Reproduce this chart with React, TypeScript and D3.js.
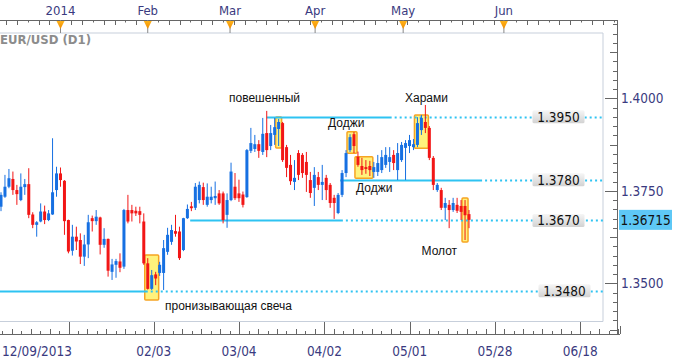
import React, { useEffect } from "react";
import * as d3 from "d3";

// ---- Candle data (EUR/USD daily) ----
const opens = [
  1.3707, 1.3734, 1.3761, 1.3782, 1.3752, 1.3725, 1.376, 1.3768, 1.3686, 1.3658,
  1.3667, 1.3694, 1.3671, 1.3686, 1.3752, 1.3797, 1.3777, 1.3671, 1.3588, 1.3626,
  1.3617, 1.3572, 1.3605, 1.3676, 1.3668, 1.3678, 1.3604, 1.362, 1.3531, 1.355,
  1.3559, 1.3545, 1.3698, 1.3698, 1.3696, 1.3695, 1.3667, 1.3554, 1.3485, 1.3524,
  1.3528, 1.3528, 1.3585, 1.3612, 1.3641, 1.364, 1.359, 1.3676, 1.3708, 1.3704,
  1.3725, 1.376, 1.3712, 1.3725, 1.373, 1.3743, 1.3743, 1.3685, 1.3725, 1.3761,
  1.3743, 1.374, 1.3733, 1.3858, 1.3863, 1.3876, 1.3855, 1.3906, 1.3871, 1.3901,
  1.3917, 1.3933, 1.3868, 1.382, 1.3774, 1.3852, 1.3847, 1.3828, 1.3779, 1.3758,
  1.3787, 1.3766, 1.3785, 1.3766, 1.3731, 1.369, 1.3739, 1.3798, 1.386, 1.3903,
  1.3842, 1.3817, 1.3814, 1.3817, 1.3801, 1.3801, 1.3806, 1.382, 1.3828, 1.3847,
  1.3806, 1.3833, 1.3866, 1.3871, 1.3868, 1.3874, 1.3914, 1.3936, 1.392, 1.3839,
  1.3752, 1.3752, 1.3704, 1.3712, 1.3698, 1.3712, 1.3709, 1.3709, 1.3687,
];
const highs = [
  1.3746, 1.3793, 1.3809, 1.3802, 1.3766, 1.3797, 1.3782, 1.3811, 1.3692, 1.3668,
  1.3716, 1.371, 1.3698, 1.3892, 1.3815, 1.3813, 1.3779, 1.3672, 1.3658, 1.3653,
  1.3635, 1.3631, 1.3685, 1.3683, 1.3698, 1.368, 1.3649, 1.3621, 1.3566, 1.3566,
  1.3581, 1.3701, 1.3739, 1.3712, 1.3707, 1.3707, 1.3689, 1.3568, 1.3536, 1.3531,
  1.3558, 1.3617, 1.365, 1.3658, 1.3685, 1.3653, 1.3677, 1.3713, 1.372, 1.3771,
  1.3775, 1.3772, 1.377, 1.3761, 1.3775, 1.3752, 1.3748, 1.3743, 1.3826, 1.3798,
  1.378, 1.3748, 1.3863, 1.392, 1.3901, 1.3887, 1.3947, 1.3966, 1.3928, 1.3947,
  1.3944, 1.3936, 1.3874, 1.3847, 1.3833, 1.386, 1.3852, 1.3855, 1.3801, 1.3814,
  1.3801, 1.382, 1.3793, 1.3771, 1.3739, 1.3744, 1.3806, 1.386, 1.3903, 1.3909,
  1.3856, 1.3839, 1.3833, 1.3831, 1.3828, 1.3847, 1.386, 1.3868, 1.3868, 1.386,
  1.3879, 1.3882, 1.3887, 1.3901, 1.389, 1.3949, 1.3955, 1.3982, 1.3925, 1.3844,
  1.3771, 1.3758, 1.3731, 1.3725, 1.3731, 1.3731, 1.3725, 1.3725, 1.3698,
];
const lows = [
  1.3695, 1.3731, 1.3757, 1.3739, 1.3712, 1.3722, 1.3739, 1.3676, 1.3649, 1.3626,
  1.3665, 1.366, 1.3668, 1.3685, 1.3734, 1.3761, 1.3631, 1.3581, 1.3575, 1.359,
  1.3552, 1.3547, 1.3568, 1.364, 1.3658, 1.3578, 1.3596, 1.3518, 1.3509, 1.3515,
  1.353, 1.3539, 1.3662, 1.3667, 1.3682, 1.3662, 1.355, 1.3483, 1.3482, 1.3495,
  1.352, 1.3482, 1.3577, 1.3604, 1.3626, 1.3563, 1.3587, 1.3674, 1.3695, 1.3698,
  1.3716, 1.3712, 1.3707, 1.3716, 1.3712, 1.3712, 1.3662, 1.365, 1.3722, 1.3725,
  1.372, 1.3705, 1.3731, 1.3852, 1.3855, 1.3839, 1.3847, 1.3841, 1.386, 1.3874,
  1.3871, 1.3828, 1.3787, 1.3766, 1.3752, 1.3779, 1.3785, 1.3747, 1.3731, 1.3709,
  1.3752, 1.3725, 1.3725, 1.3704, 1.3674, 1.3687, 1.3733, 1.3787, 1.3855, 1.3852,
  1.3815, 1.3793, 1.3796, 1.379, 1.3785, 1.379, 1.3798, 1.3812, 1.3801, 1.3806,
  1.3779, 1.3828, 1.3779, 1.3852, 1.386, 1.3868, 1.3901, 1.3906, 1.3833, 1.3752,
  1.3747, 1.3698, 1.3671, 1.3649, 1.3693, 1.369, 1.3671, 1.3617, 1.3649,
];
const closes = [
  1.3739, 1.3761, 1.3784, 1.3752, 1.3741, 1.3761, 1.3768, 1.3685, 1.3658, 1.3665,
  1.3694, 1.3671, 1.3689, 1.3746, 1.3797, 1.3779, 1.3668, 1.3586, 1.3626, 1.3613,
  1.3572, 1.3605, 1.3665, 1.3668, 1.368, 1.3604, 1.362, 1.3534, 1.3551, 1.356,
  1.3542, 1.3698, 1.3667, 1.3689, 1.3689, 1.3685, 1.3554, 1.3485, 1.3522, 1.3513,
  1.355, 1.3595, 1.3631, 1.3644, 1.3634, 1.3568, 1.3676, 1.3701, 1.3703, 1.3761,
  1.3766, 1.3725, 1.3734, 1.3734, 1.3736, 1.3716, 1.3671, 1.3725, 1.3802, 1.373,
  1.373, 1.3712, 1.386, 1.3879, 1.3876, 1.3858, 1.3904, 1.386, 1.3906, 1.3922,
  1.3936, 1.3833, 1.3812, 1.3776, 1.3785, 1.3793, 1.3798, 1.3793, 1.3744, 1.3793,
  1.3766, 1.3774, 1.3752, 1.3717, 1.3717, 1.3739, 1.3798, 1.3852, 1.3895, 1.3871,
  1.382, 1.3806, 1.3809, 1.3806, 1.3814, 1.3825, 1.3841, 1.3847, 1.3841, 1.3825,
  1.3852, 1.3874, 1.3879, 1.3887, 1.3876, 1.3933, 1.3947, 1.392, 1.3839, 1.3766,
  1.3766, 1.3704, 1.3717, 1.3698, 1.3717, 1.3696, 1.3693, 1.3684, 1.36715,
];

// ---- Axes ----
const priceLabels = [1.35, 1.375, 1.4];
const monthNames = ["2014", "Feb", "Mar", "Apr", "May", "Jun"];
const monthBars = [15, 37, 57.75, 79.2, 101.4, 126.8];
const dateLabels = ["12/09/2013", "02/03", "03/04", "04/02", "05/01", "05/28", "06/18"];
const currentPrice = 1.36715;

// ---- Support / resistance levels ----
const levelPrices = [1.395, 1.378, 1.367, 1.348];
const levelSolidFrom = [67, 85.5, 47.7, -2];
const levelSolidTo = [98.5, 121.3, 86.2, 37];

// ---- Candle pattern highlights ----
const patternNames = ["пронизывающая свеча", "повешенный", "Доджи", "Доджи", "Харами", "Молот"];
const patternFrom = [37, 70, 88, 90, 105, 117];
const patternTo = [39, 70, 89, 93, 107, 117];
const patternHigh = [1.35765, 1.39495, 1.39098, 1.38422, 1.39549, 1.37306];
const patternLow = [1.34549, 1.38657, 1.38513, 1.37838, 1.38649, 1.36116];

const AXIS_FONT = "'DejaVu Sans Condensed', 'DejaVu Sans', sans-serif";
const TEXT_FONT = "'Liberation Sans', Arial, sans-serif";
const AXIS_COLOR = "#3a3a80";
const LEVEL_COLOR = "#2ec3f2";
const UP = "#1670e2";
const DOWN = "#f21616";

export default function App() {
  useEffect(() => {
    document.body.style.margin = "0";
  }, []);

  const n = opens.length;
  const x = d3.scaleLinear().domain([0, n - 1]).range([1, 469]);
  const y = d3.scaleLinear().domain([1.35, 1.4]).range([283.3, 98.3]);

  const plotRight = 603;
  const plotTop = 33;
  const plotBottom = 321.5;
  const axisX = 617;
  const topAxisY = 20;
  const bottomAxisY = 334;

  // right axis ticks
  const rTicks = d3.range(1.32, 1.43, 0.0025).filter((p) => {
    const yy = y(p);
    return yy > topAxisY + 2 && yy < bottomAxisY - 2;
  });

  // top axis ticks
  const topTicks = d3.range(6, 617, 10.85);
  // bottom axis ticks
  const botStep = 85.3 / 9;
  const botTicks = d3.range(-7, 60).map((i) => ({ i, px: 68.5 + i * botStep })).filter((t) => t.px > 1 && t.px < 620);

  const labelCx = [558.5, 558.5, 558.5, 564.5];
  const patternTextPos: [number, number][] = [
    [165, 310],
    [229, 101.5],
    [328, 127],
    [356, 191.5],
    [405, 101.5],
    [421.5, 254.5],
  ];

  return (
    <svg
      width={680}
      height={361}
      style={{ position: "absolute", left: 0, top: 0, display: "block", background: "#fff" }}
    >
      <defs>
        <clipPath id="plot">
          <rect x={0} y={plotTop} width={plotRight} height={plotBottom - plotTop} />
        </clipPath>
        <linearGradient id="lblGrad" x1="0" y1="0" x2="0" y2="1">
          <stop offset="0" stopColor="#f6f6f6" />
          <stop offset="1" stopColor="#d2d2d2" />
        </linearGradient>
        <linearGradient id="triGrad" x1="0" y1="0" x2="0" y2="1">
          <stop offset="0" stopColor="#ffb31a" />
          <stop offset="1" stopColor="#f08c00" />
        </linearGradient>
      </defs>
      <rect x={0} y={0} width={680} height={361} fill="#fff" />

      {/* frame */}
      <line x1={0} x2={plotRight} y1={plotTop} y2={plotTop} stroke="#c7cfdb" />
      <line x1={plotRight} x2={plotRight} y1={plotTop} y2={plotBottom} stroke="#c7cfdb" />
      <line x1={0} x2={plotRight} y1={plotBottom} y2={plotBottom} stroke="#c7cfdb" />

      <g clipPath="url(#plot)">
        {/* pattern boxes */}
        {patternNames.map((nm, i) => (
          <rect
            key={"pb" + i}
            x={x(patternFrom[i]) - 3}
            y={y(patternHigh[i])}
            width={x(patternTo[i]) - x(patternFrom[i]) + 6}
            height={y(patternLow[i]) - y(patternHigh[i])}
            fill="#fff27c"
            stroke="#f6a422"
            strokeWidth={1.5}
            rx={1}
          />
        ))}

        {/* level lines */}
        {levelPrices.map((p, i) => {
          const yy = Math.round(y(p)) + 0.5;
          return (
            <g key={"lv" + i}>
              <line x1={x(levelSolidFrom[i])} x2={x(levelSolidTo[i])} y1={yy} y2={yy} stroke={LEVEL_COLOR} strokeWidth={2} />
              <line
                x1={x(levelSolidTo[i]) + 3}
                x2={plotRight}
                y1={yy}
                y2={yy}
                stroke={LEVEL_COLOR}
                strokeWidth={2}
                strokeDasharray="2 3"
              />
            </g>
          );
        })}

        {/* candles */}
        {opens.map((o, i) => {
          const c = closes[i];
          const up = c >= o;
          const col = up ? UP : DOWN;
          const cx = x(i);
          const top = y(Math.max(o, c));
          const bot = y(Math.min(o, c));
          return (
            <g key={"c" + i}>
              <line x1={cx} x2={cx} y1={y(highs[i])} y2={y(lows[i])} stroke={col} strokeWidth={1} />
              <rect x={cx - 1.5} y={top} width={3} height={Math.max(1, bot - top)} fill={col} />
            </g>
          );
        })}
      </g>

      {/* pattern labels */}
      {patternNames.map((nm, i) => (
        <text
          key={"pt" + i}
          x={patternTextPos[i][0]}
          y={patternTextPos[i][1]}
          fontFamily={TEXT_FONT}
          fontSize={12}
          fill="#111"
        >
          {nm}
        </text>
      ))}

      {/* level labels */}
      {levelPrices.map((p, i) => {
        const yy = y(p);
        return (
          <g key={"ll" + i}>
            <rect x={labelCx[i] - 26} y={yy - 6.5} width={52} height={13} fill="url(#lblGrad)" rx={1.5} />
            <text
              x={labelCx[i]}
              y={yy}
              dy="0.36em"
              textAnchor="middle"
              fontFamily={AXIS_FONT}
              fontSize={13.5}
              fill="#111"
            >
              {p.toFixed(4)}
            </text>
          </g>
        );
      })}

      {/* EUR/USD title */}
      <text x={0} y={44} fontFamily={AXIS_FONT} fontWeight="bold" fontSize={13} fill="#8c8c8c">
        EUR/USD (D1)
      </text>

      {/* top axis */}
      <line x1={0} x2={axisX} y1={topAxisY + 0.5} y2={topAxisY + 0.5} stroke="#666" />
      {topTicks.map((tx, i) => (
        <line
          key={"tt" + i}
          x1={Math.round(tx) + 0.5}
          x2={Math.round(tx) + 0.5}
          y1={topAxisY}
          y2={topAxisY + (i % 3 === 2 ? 2.5 : 5)}
          stroke="#666"
        />
      ))}
      {monthBars.map((b, i) => {
        const mx = x(b);
        return (
          <g key={"m" + i}>
            <line x1={mx} x2={mx} y1={topAxisY} y2={plotTop} stroke="#888" />
            <path d={`M${mx - 4},${topAxisY + 1} L${mx + 4},${topAxisY + 1} L${mx},${topAxisY + 9} Z`} fill="url(#triGrad)" />
            <text x={mx} y={15} textAnchor="middle" fontFamily={AXIS_FONT} fontSize={13} fill={AXIS_COLOR}>
              {monthNames[i]}
            </text>
          </g>
        );
      })}

      {/* right axis */}
      <line x1={axisX + 0.5} x2={axisX + 0.5} y1={topAxisY} y2={bottomAxisY} stroke="#666" />
      {rTicks.map((p, i) => {
        const k = Math.round(p / 0.0025);
        const len = k % 10 === 0 ? 12 : k % 5 === 0 ? 7 : 4;
        const yy = Math.round(y(p)) + 0.5;
        return <line key={"rt" + i} x1={axisX - len} x2={axisX + 0.5} y1={yy} y2={yy} stroke="#666" />;
      })}
      {priceLabels.map((p, i) => (
        <text
          key={"pl" + i}
          x={621}
          y={y(p)}
          dy="0.36em"
          fontFamily={AXIS_FONT}
          fontSize={13.5}
          fill={AXIS_COLOR}
        >
          {p.toFixed(4)}
        </text>
      ))}
      <rect x={619} y={y(currentPrice) - 10} width={53} height={20} fill="#5ec8f6" />
      <text x={620.5} y={y(currentPrice)} dy="0.36em" fontFamily={AXIS_FONT} fontSize={13.5} fill="#111">
        {currentPrice.toFixed(5)}
      </text>

      {/* bottom axis */}
      <line x1={0} x2={620} y1={bottomAxisY + 0.5} y2={bottomAxisY + 0.5} stroke="#666" />
      <line x1={620.5} x2={620.5} y1={bottomAxisY - 8} y2={bottomAxisY} stroke="#666" />
      {botTicks.map((t) => {
        const major = ((t.i % 9) + 9) % 9 === 0;
        const len = major ? 12 : t.i % 2 === 0 ? 5 : 3;
        const px = Math.round(t.px) + 0.5;
        return <line key={"bt" + t.i} x1={px} x2={px} y1={bottomAxisY - len} y2={bottomAxisY} stroke="#666" />;
      })}
      {dateLabels.map((d, i) => (
        <text
          key={"dl" + i}
          x={i === 0 ? 2 : 68.5 + i * 85.3}
          y={355.5}
          textAnchor={i === 0 ? "start" : "middle"}
          fontFamily={AXIS_FONT}
          fontSize={13.5}
          fill={AXIS_COLOR}
        >
          {d}
        </text>
      ))}
    </svg>
  );
}
